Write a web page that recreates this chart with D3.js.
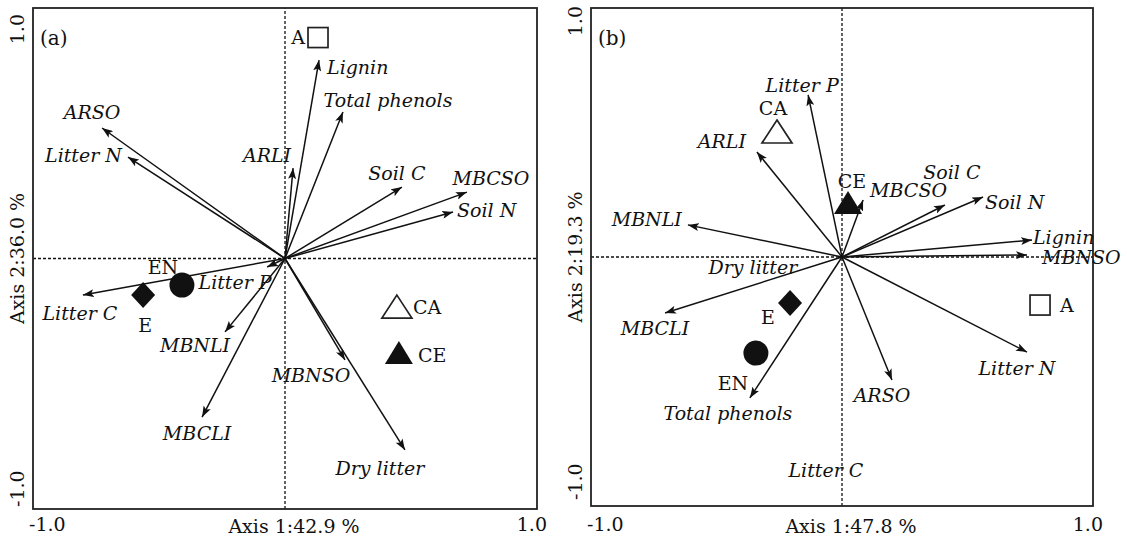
<!DOCTYPE html>
<html>
<head>
<meta charset="utf-8">
<script src="https://cdn.jsdelivr.net/npm/d3@7"></script>
<style>
  html, body { margin: 0; padding: 0; background: #fff; }
  svg { display: block; }
  text { font-family: "DejaVu Serif", "Liberation Serif", serif; fill: #111; }
</style>
</head>
<body>
<svg id="chart" width="1127" height="538"></svg>
<script>
// ---------------- DATA ----------------
const tickLabels = ["-1.0", "1.0"];
const axisTitlesA = ["Axis 1:42.9 %", "Axis 2:36.0 %"];
const axisTitlesB = ["Axis 1:47.8 %", "Axis 2:19.3 %"];

// panel (a) variable vectors
const varNamesA = ["ARSO", "Litter N", "ARLI", "Lignin", "Total phenols", "Soil C", "MBCSO", "Soil N",
                   "Litter C", "Litter P", "MBNLI", "MBCLI", "MBNSO", "Dry litter"];
const varAxis1A = [-0.726, -0.623, 0.032, 0.135, 0.230, 0.464, 0.722, 0.667,
                   -0.802, -0.071, -0.238, -0.329, 0.238, 0.476];
const varAxis2A = [0.521, 0.405, 0.361, 0.792, 0.585, 0.285, 0.265, 0.186,
                   -0.146, -0.034, -0.293, -0.633, -0.405, -0.764];

// panel (a) sites
const siteNamesA = ["A", "EN", "E", "CA", "CE"];
const siteAxis1A = [0.131, -0.409, -0.563, 0.444, 0.452];
const siteAxis2A = [0.882, -0.106, -0.146, -0.194, -0.377];

// panel (b) variable vectors
const varNamesB = ["Litter P", "ARLI", "MBNLI", "MBCSO", "Soil C", "Soil N", "Lignin", "MBNSO",
                   "MBCLI", "Total phenols", "ARSO", "Litter N"];
const varAxis1B = [-0.135, -0.339, -0.614, 0.084, 0.410, 0.562, 0.757, 0.737,
                   -0.705, -0.367, 0.199, 0.737];
const varAxis2B = [0.651, 0.422, 0.129, 0.229, 0.209, 0.241, 0.068, 0.008,
                   -0.225, -0.566, -0.494, -0.382];
// panel (b) variables whose vectors are hidden by the axes: label only
const labelOnlyNamesB = ["Dry litter", "Litter C"];
const labelOnlyAxis1B = [-0.355, -0.064];
const labelOnlyAxis2B = [-0.040, -0.855];

// panel (b) sites
const siteNamesB = ["CA", "CE", "E", "EN", "A"];
const siteAxis1B = [-0.259, 0.024, -0.207, -0.343, 0.789];
const siteAxis2B = [0.502, 0.217, -0.185, -0.386, -0.193];

const siteSymbol = { "A": "openSquare", "EN": "circle", "E": "diamond", "CA": "openTriangle", "CE": "triangle" };

// ---------------- LAYOUT (label placement, px offsets from tip) ----------------
const FS = 19;
const varLabelLayoutA = {
  "ARSO": ["middle", -10, -16], "Litter N": ["end", -6, -2], "ARLI": ["end", -2, -13],
  "Lignin": ["start", 8, 7], "Total phenols": ["middle", 45, -12], "Soil C": ["middle", -5, -14],
  "MBCSO": ["middle", 24, -14], "Soil N": ["start", 4, -2], "Litter C": ["middle", -3, 18],
  "Litter P": ["middle", -32, 15], "MBNLI": ["middle", -30, 13], "MBCLI": ["middle", -5, 16],
  "MBNSO": ["middle", -34, 15], "Dry litter": ["middle", -25, 18]
};
const siteLabelLayoutA = {
  "A": ["end", -13, 0], "EN": ["middle", -19, -18], "E": ["middle", 2, 30],
  "CA": ["start", 16, 0], "CE": ["start", 19, 2]
};
const varLabelLayoutB = {
  "Litter P": ["middle", -6, -10], "ARLI": ["middle", -35, -11], "MBNLI": ["end", -6, -6],
  "MBCSO": ["start", 7, -10], "Soil C": ["middle", 7, -33], "Soil N": ["start", 2, 5],
  "Lignin": ["start", 1, -3], "MBNSO": ["start", 15, 2], "MBCLI": ["middle", -10, 15],
  "Total phenols": ["middle", -22, 15], "ARSO": ["middle", -10, 15], "Litter N": ["middle", -10, 16]
};
const siteLabelLayoutB = {
  "CA": ["middle", -4, -24], "CE": ["middle", 4, -22], "E": ["middle", -22, 14],
  "EN": ["middle", -23, 30], "A": ["start", 20, 0]
};

const svg = d3.select("#chart");

const defs = svg.append("defs");
defs.append("marker")
  .attr("id", "arrow")
  .attr("viewBox", "0 0 11 8")
  .attr("refX", 11).attr("refY", 4)
  .attr("markerWidth", 11).attr("markerHeight", 8)
  .attr("markerUnits", "userSpaceOnUse")
  .attr("orient", "auto")
  .append("path").attr("d", "M0,0 L11,4 L0,8 L2.5,4 Z").attr("fill", "#111");

function drawPanel(cfg) {
  const x = d3.scaleLinear().domain([-1, 1]).range([cfg.left, cfg.right]);
  const y = d3.scaleLinear().domain([-1, 1]).range([cfg.bottom, cfg.top]);
  const g = svg.append("g");

  // dashed zero lines
  g.append("line").attr("x1", x(-1)).attr("x2", x(1)).attr("y1", y(0)).attr("y2", y(0))
    .attr("stroke", "#111").attr("stroke-width", 1.3).attr("stroke-dasharray", "3,2");
  g.append("line").attr("x1", x(0)).attr("x2", x(0)).attr("y1", y(-1)).attr("y2", y(1))
    .attr("stroke", "#111").attr("stroke-width", 1.3).attr("stroke-dasharray", "3,2");

  // frame
  g.append("rect").attr("x", x(-1)).attr("y", y(1))
    .attr("width", x(1) - x(-1)).attr("height", y(-1) - y(1))
    .attr("fill", "none").attr("stroke", "#222").attr("stroke-width", 1.8);

  // tick labels
  g.append("text").attr("x", x(-1) - 4).attr("y", 531).attr("text-anchor", "start")
    .attr("font-size", FS).text(tickLabels[0]);
  g.append("text").attr("x", x(1) + 10).attr("y", 531).attr("text-anchor", "end")
    .attr("font-size", FS).text(tickLabels[1]);
  g.append("text").attr("transform", `translate(${cfg.left - 9},${cfg.vTickBottom}) rotate(-90)`)
    .attr("text-anchor", "start").attr("font-size", FS).text(tickLabels[0]);
  g.append("text").attr("transform", `translate(${cfg.left - 9},${cfg.vTickTop}) rotate(-90)`)
    .attr("text-anchor", "end").attr("font-size", FS).text(tickLabels[1]);

  // axis titles
  g.append("text").attr("x", x(0) + 9).attr("y", 533).attr("text-anchor", "middle")
    .attr("font-size", FS).text(cfg.titles[0]);
  g.append("text").attr("transform", `translate(${cfg.left - 9},${y(0)}) rotate(-90)`)
    .attr("text-anchor", "middle").attr("font-size", FS).text(cfg.titles[1]);

  // panel letter
  g.append("text").attr("x", cfg.left + 7).attr("y", cfg.top + 37).attr("font-size", FS + 1).text(cfg.letter);

  // arrows
  const vars = cfg.names.map((n, i) => ({ name: n, a1: cfg.a1[i], a2: cfg.a2[i] }));
  g.selectAll("line.vec").data(vars).join("line").attr("class", "vec")
    .attr("x1", x(0)).attr("y1", y(0))
    .attr("x2", d => x(d.a1)).attr("y2", d => y(d.a2))
    .attr("stroke", "#111").attr("stroke-width", 1.5)
    .attr("marker-end", "url(#arrow)");

  g.selectAll("text.vlab").data(vars).join("text").attr("class", "vlab")
    .attr("x", d => x(d.a1) + cfg.varLayout[d.name][1])
    .attr("y", d => y(d.a2) + cfg.varLayout[d.name][2])
    .attr("dy", "0.35em")
    .attr("text-anchor", d => cfg.varLayout[d.name][0])
    .attr("font-size", FS).attr("font-style", "italic")
    .text(d => d.name);

  if (cfg.labelOnly) {
    const lo = cfg.labelOnly.names.map((n, i) => ({ name: n, a1: cfg.labelOnly.a1[i], a2: cfg.labelOnly.a2[i] }));
    g.selectAll("text.lolab").data(lo).join("text").attr("class", "lolab")
      .attr("x", d => x(d.a1)).attr("y", d => y(d.a2)).attr("dy", "0.35em")
      .attr("text-anchor", "middle").attr("font-size", FS).attr("font-style", "italic")
      .text(d => d.name);
  }

  // sites
  const sites = cfg.siteNames.map((n, i) => ({ name: n, a1: cfg.s1[i], a2: cfg.s2[i] }));
  const sg = g.selectAll("g.site").data(sites).join("g").attr("class", "site")
    .attr("transform", d => `translate(${x(d.a1)},${y(d.a2)})`);
  sg.each(function (d) {
    const s = d3.select(this);
    const t = siteSymbol[d.name];
    if (t === "openSquare") {
      s.append("rect").attr("x", -10).attr("y", -10).attr("width", 20).attr("height", 20)
        .attr("fill", "#fff").attr("stroke", "#222").attr("stroke-width", 1.7);
    } else if (t === "circle") {
      s.append("circle").attr("r", 12.5).attr("fill", "#111");
    } else if (t === "diamond") {
      s.append("path").attr("d", "M0,-13 L12,0 L0,13 L-12,0 Z").attr("fill", "#111");
    } else if (t === "openTriangle") {
      s.append("path").attr("d", "M0,-12 L15,11 L-15,11 Z")
        .attr("fill", "#fff").attr("stroke", "#222").attr("stroke-width", 1.7);
    } else if (t === "triangle") {
      s.append("path").attr("d", "M0,-12 L14,11 L-14,11 Z").attr("fill", "#111");
    }
  });
  g.selectAll("text.slab").data(sites).join("text").attr("class", "slab")
    .attr("x", d => x(d.a1) + cfg.siteLayout[d.name][1])
    .attr("y", d => y(d.a2) + cfg.siteLayout[d.name][2])
    .attr("dy", "0.35em")
    .attr("text-anchor", d => cfg.siteLayout[d.name][0])
    .attr("font-size", FS)
    .text(d => d.name);
}

drawPanel({
  left: 33, right: 537, top: 8, bottom: 509, letter: "(a)", titles: axisTitlesA,
  vTickTop: 14, vTickBottom: 507,
  names: varNamesA, a1: varAxis1A, a2: varAxis2A, varLayout: varLabelLayoutA,
  siteNames: siteNamesA, s1: siteAxis1A, s2: siteAxis2A, siteLayout: siteLabelLayoutA
});
drawPanel({
  left: 591, right: 1093, top: 8, bottom: 506, letter: "(b)", titles: axisTitlesB,
  vTickTop: 6, vTickBottom: 500,
  names: varNamesB, a1: varAxis1B, a2: varAxis2B, varLayout: varLabelLayoutB,
  labelOnly: { names: labelOnlyNamesB, a1: labelOnlyAxis1B, a2: labelOnlyAxis2B },
  siteNames: siteNamesB, s1: siteAxis1B, s2: siteAxis2B, siteLayout: siteLabelLayoutB
});
</script>
</body>
</html>
